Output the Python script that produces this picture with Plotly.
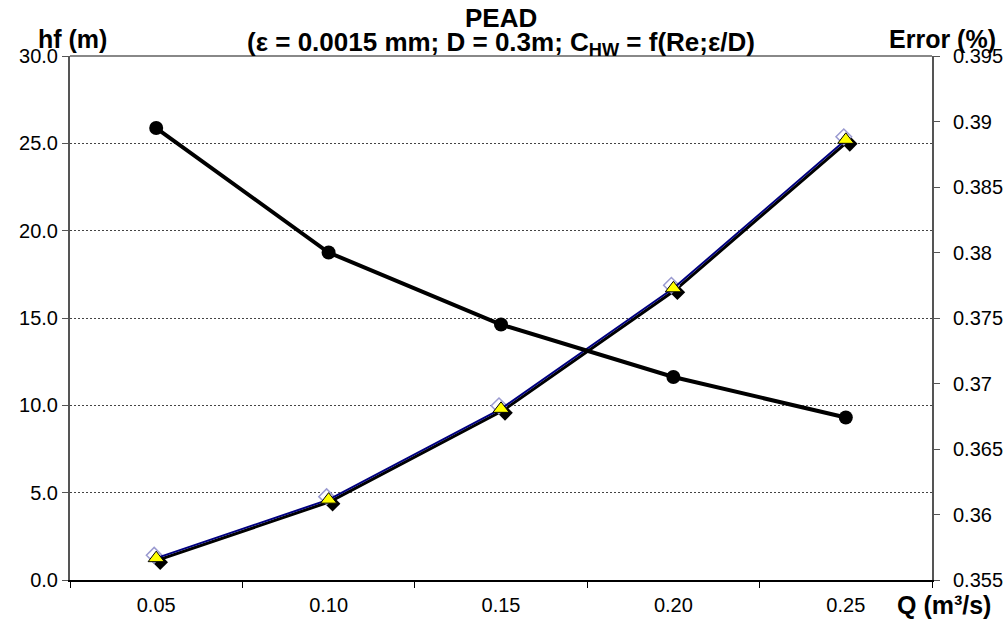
import plotly.graph_objects as go

# ---- data ----
q_labels = ["0.05", "0.10", "0.15", "0.20", "0.25"]
hf_values = [1.25, 4.6, 9.8, 16.7, 25.2]                 # hf (m)
error_values = [0.3895, 0.3800, 0.3745, 0.3705, 0.3674]  # Error (%)
hf_ticks = [0, 5, 10, 15, 20, 25, 30]
err_ticks = [0.355, 0.36, 0.365, 0.37, 0.375, 0.38, 0.385, 0.39, 0.395]

# ---- geometry ----
W, H = 1007, 620
ML, MR, MT, MB = 70, 75, 56, 40
PW = W - ML - MR
PH = H - MT - MB
ncat = len(q_labels)
cat_per_px = ncat / PW
hf_min, hf_max = 0, 30
err_min, err_max = 0.355, 0.395
hf_per_px = (hf_max - hf_min) / PH
xr = [-0.5, ncat - 0.5]

FONT = "Liberation Sans, Arial, sans-serif"


def shifted(dx_px, dy_px):
    """axis ranges that visually shift drawn marks by (dx, dy) pixels (dy>0 = down)"""
    xs = [xr[0] - dx_px * cat_per_px, xr[1] - dx_px * cat_per_px]
    ys = [hf_min + dy_px * hf_per_px, hf_max + dy_px * hf_per_px]
    return xs, ys


fig = go.Figure()

# invisible anchors so the main subplots exist
fig.add_trace(go.Scatter(x=q_labels, y=hf_values, mode="markers",
                         marker=dict(size=1, opacity=0), xaxis="x", yaxis="y",
                         showlegend=False, hoverinfo="skip"))
fig.add_trace(go.Scatter(x=q_labels, y=error_values, mode="markers",
                         marker=dict(size=1, opacity=0), xaxis="x", yaxis="y2",
                         showlegend=False, hoverinfo="skip"))
# black line just below the navy line
fig.add_trace(go.Scatter(x=q_labels, y=hf_values, mode="lines",
                         line=dict(color="black", width=3),
                         xaxis="x3", yaxis="y3", showlegend=False, hoverinfo="skip"))
# black diamonds (down-right)
fig.add_trace(go.Scatter(x=q_labels, y=hf_values, mode="markers",
                         marker=dict(symbol="diamond", size=12, color="black"),
                         xaxis="x4", yaxis="y4", showlegend=False, hoverinfo="skip"))
# lavender open diamonds (up-left)
fig.add_trace(go.Scatter(x=q_labels, y=hf_values, mode="markers",
                         marker=dict(symbol="diamond", size=12, color="white",
                                     line=dict(color="#9a9ad0", width=1.5)),
                         xaxis="x5", yaxis="y5", showlegend=False, hoverinfo="skip"))
# navy line + yellow triangles
fig.add_trace(go.Scatter(x=q_labels, y=hf_values, mode="lines",
                         line=dict(color="#000080", width=2),
                         xaxis="x6", yaxis="y6", showlegend=False))
fig.add_trace(go.Scatter(x=q_labels, y=hf_values, mode="markers",
                         marker=dict(symbol="triangle-up", size=14, color="#ffff00",
                                     line=dict(color="black", width=1)),
                         xaxis="x6", yaxis="y6", showlegend=False))
# Error series (right axis scale)
fig.add_trace(go.Scatter(x=q_labels, y=error_values, mode="lines+markers",
                         line=dict(color="black", width=4),
                         marker=dict(symbol="circle", size=14, color="black"),
                         xaxis="x7", yaxis="y7", showlegend=False))

x3r, y3r = shifted(1.5, 2)
x4r, y4r = shifted(4, 4)
x5r, y5r = shifted(-2, -3)
x6r, y6r = shifted(0, 0)

hidden = dict(visible=False, fixedrange=True)
cat = dict(type="category", categoryorder="array", categoryarray=q_labels)

TITLE_FONT = dict(family=FONT, size=26, color="black")
AXT_FONT = dict(family=FONT, size=25, color="black")

fig.update_layout(
    template="none",
    width=W, height=H,
    margin=dict(l=ML, r=MR, t=MT, b=MB),
    paper_bgcolor="white", plot_bgcolor="white",
    font=dict(family=FONT, size=20, color="black"),
    xaxis=dict(**cat, range=xr, showgrid=False, zeroline=False, automargin=False,
               showline=True, linecolor="black", linewidth=1.5,
               ticks="outside", tickson="boundaries", ticklen=6, tickcolor="black",
               tickfont=dict(size=20), ticklabelstandoff=6),
    yaxis=dict(range=[hf_min, hf_max], tickvals=hf_ticks, tickformat=".1f",
               automargin=False,
               showgrid=True, gridcolor="#444444", griddash="2px,2px", gridwidth=1,
               zeroline=False, showline=True, linecolor="#555555", linewidth=2,
               ticks="outside", ticklen=6, tickcolor="#555555",
               tickfont=dict(size=20)),
    yaxis2=dict(range=[err_min, err_max], tickvals=err_ticks, overlaying="y", side="right",
                automargin=False,
                showgrid=False, zeroline=False, showline=True, linecolor="#555555",
                linewidth=2, ticks="outside", ticklen=6, tickcolor="#555555",
                tickfont=dict(size=20), ticklabelstandoff=9),
    xaxis3=dict(**cat, range=x3r, overlaying="x", **hidden),
    yaxis3=dict(range=y3r, overlaying="y", **hidden),
    xaxis4=dict(**cat, range=x4r, overlaying="x", **hidden),
    yaxis4=dict(range=y4r, overlaying="y", **hidden),
    xaxis5=dict(**cat, range=x5r, overlaying="x", **hidden),
    yaxis5=dict(range=y5r, overlaying="y", **hidden),
    xaxis6=dict(**cat, range=x6r, overlaying="x", **hidden),
    yaxis6=dict(range=y6r, overlaying="y", **hidden),
    xaxis7=dict(**cat, range=xr, overlaying="x", **hidden),
    yaxis7=dict(range=[err_min, err_max], overlaying="y", **hidden),
    shapes=[dict(type="line", xref="paper", yref="paper", x0=0, x1=1, y0=1, y1=1,
                 line=dict(color="#888888", width=2))],
    annotations=[
        dict(text="<b>PEAD</b>", xref="paper", yref="paper", x=0.5, y=1,
             xanchor="center", yanchor="middle", yshift=MT - 18,
             showarrow=False, font=TITLE_FONT),
        dict(text="<b>(ε = 0.0015 mm; D = 0.3m; C<sub>HW</sub> = f(Re;ε/D)</b>",
             xref="paper", yref="paper", x=0.5, y=1,
             xanchor="center", yanchor="middle", yshift=MT - 43,
             showarrow=False, font=TITLE_FONT),
        dict(text="<b>hf (m)</b>", xref="paper", yref="paper", x=0, y=1,
             xanchor="center", yanchor="middle", xshift=2, yshift=MT - 39,
             showarrow=False, font=AXT_FONT),
        dict(text="<b>Error (%)</b>", xref="paper", yref="paper", x=1, y=1,
             xanchor="center", yanchor="middle", xshift=10, yshift=MT - 39,
             showarrow=False, font=AXT_FONT),
        dict(text="<b>Q (m³/s)</b>", xref="paper", yref="paper", x=1, y=0,
             xanchor="center", yanchor="middle", xshift=12, yshift=-(605 - (H - MB)),
             showarrow=False, font=AXT_FONT),
    ],
)

fig.write_html("out.html", config={"displayModeBar": False},
               post_script="document.body.style.margin='0';")
